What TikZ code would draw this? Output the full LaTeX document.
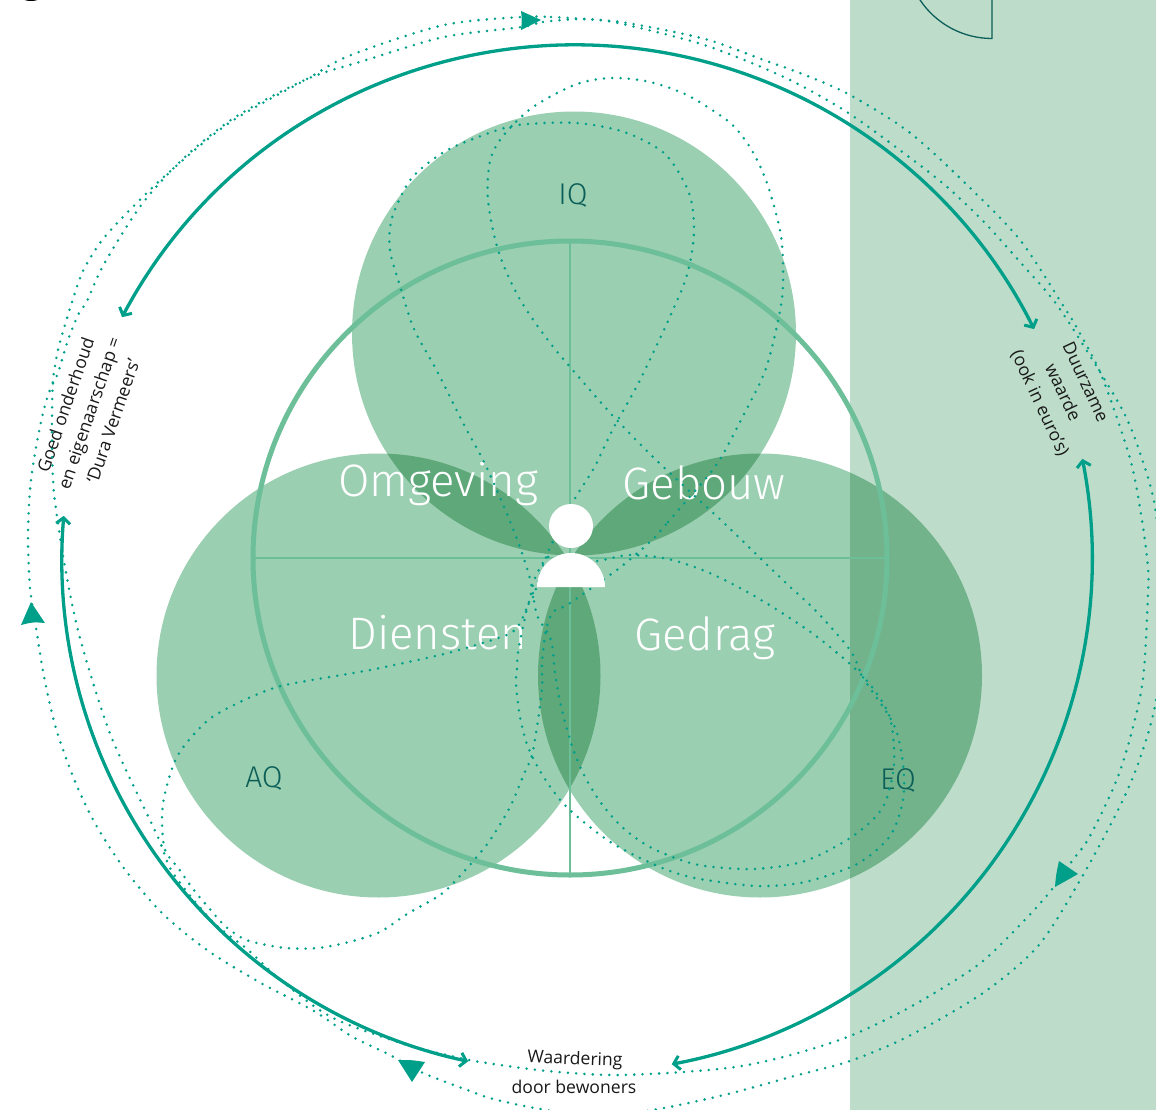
\documentclass[tikz,border=0pt]{standalone}
\usepackage{fontspec}
\usetikzlibrary{arrows.meta}
\setmainfont{Open Sans}
\newfontfamily\bigfont[UprightFont={* Light}]{Fira Sans}
\definecolor{pale}{HTML}{BDDDCA}
\definecolor{petal}{HTML}{9BCFB1}
\definecolor{ringc}{HTML}{6CBF98}
\definecolor{teal}{HTML}{009F89}
\definecolor{darkt}{HTML}{0B5F58}
\tikzset{
  x=1pt,y=-1pt,
  ringline/.style={draw=ringc,line width=5pt},
  crossline/.style={draw=ringc,line width=1.6pt},
  solidarc/.style={draw=teal,line width=3.3pt,{Straight Barb[length=6pt,width=14pt,line width=3pt]}-{Straight Barb[length=6pt,width=14pt,line width=3pt]}},
  dotline/.style={draw=teal,line width=2.8pt,line cap=round,dash pattern=on 0pt off 8.3pt},
  headtip/.style={fill=teal},
  biglabel/.style={text=white,font=\bigfont\fontsize{45.5}{50}\selectfont,inner sep=0pt},
  qlabel/.style={text=darkt,font=\bigfont\fontsize{30}{32}\selectfont,inner sep=0pt},
  smalllabel/.style={text=black!90,font=\fontsize{17.6}{25}\selectfont,align=center,inner sep=0pt},
}
\begin{document}
\begin{tikzpicture}
\useasboundingbox (0,0) rectangle (1156,1110);
\clip (0,0) rectangle (1156,1110);
\fill[pale] (850,0) rectangle (1156,1110);
% corner marks
\fill[black] (31,-3) ellipse[x radius=10pt,y radius=4pt];
\coordinate (qc) at (992,-48);
\path (qc) ++(213.6:86.5pt) coordinate (qs);
\draw[darkt,line width=1.3pt] (qs) arc[start angle=213.6,end angle=270,radius=86.5pt] -- (992,0);
% petals
\begin{scope}[blend mode=multiply]
\fill[petal] (574,333.5) circle[radius=222pt];
\fill[petal] (378.5,675.5) circle[radius=222pt];
\fill[petal] (760,675.5) circle[radius=222pt];
\end{scope}
% ring and cross
\coordinate (rc) at (570,558);
\draw[crossline] (255,558) -- (886,558);
\draw[crossline] (570,241) -- (570,876);
\draw[ringline] (rc) circle[radius=317pt];
% labels
\node[biglabel] (omg) at (438,484) {Omgeving};
\node[biglabel] (geb) at (704,483) {Gebouw};
\node[biglabel] (die) at (438,633) {Diensten};
\node[biglabel] (ged) at (705,638) {Gedrag};
\node[qlabel] (iq) at (573,195) {IQ};
\node[qlabel] (aq) at (264,778) {AQ};
\node[qlabel] (eq) at (898,780) {EQ};
\node[smalllabel,rotate=71] (goed) at (89,413) {Goed onderhoud\\en eigenaarschap =\\‘Dura Vermeers’};
\node[smalllabel,rotate=-65] (duur) at (1062,393) {Duurzame\\waarde\\(ook in euro’s)};
\node[smalllabel,rotate=-2] (waar) at (575,1060) {Waardering};
\node[smalllabel] (door) at (574,1087) {door bewoners};
% solid arcs
\coordinate (c) at (577,558);
\coordinate (ct) at (575,558);
\path (ct) ++(152:513pt) coordinate (a1);
\path (c) ++(11.1:515pt) coordinate (a2);
\path (c) ++(175.3:515pt) coordinate (a3);
\draw[solidarc] (a1) arc[start angle=152,end angle=26.5,radius=513pt];
\draw[solidarc] (a2) arc[start angle=11.1,end angle=-79.4,radius=515pt];
\draw[solidarc] (a3) arc[start angle=175.3,end angle=257.8,radius=515pt];
% dotted rings
\draw[dotline] plot[smooth cycle] coordinates {(522,17)(551,17)(583,19)(627,23)(705,39)(761,59)(805,75)(850,95)(909,132)(964,182)(1020,240)(1064,307)(1077,328)(1100,372)(1120,427)(1133,470)(1143,527)(1148,568)(1148,593)(1142,686)(1120,771)(1090,836)(1072,861)(1049,893)(1020,925)(983,961)(946,986)(901,1012)(850,1036)(798,1053)(742,1066)(683,1072)(613,1075)(547,1071)(480,1062)(447,1055)(407,1045)(333,1018)(283,982)(247,949)(213,922)(173,873)(157,835)(111,736)(80,638)(65,567)(55,502)(53,478)(52,447)(52,417)(53,380)(58,350)(65,325)(72,302)(83,271)(100,243)(122,218)(166,175)(229,123)(307,79)(351,55)(444,25)};
\draw[dotline] plot[smooth cycle] coordinates {(522,27)(543,22)(583,19)(618,23)(698,43)(754,64)(798,84)(850,114)(909,157)(946,186)(983,221)(1020,262)(1057,305)(1100,372)(1125,415)(1140,453)(1155,507)(1163,600)(1156,700)(1138,764)(1116,814)(1079,882)(1038,946)(983,993)(909,1036)(850,1061)(798,1075)(724,1095)(653,1110)(597,1116)(540,1109)(493,1099)(470,1091)(423,1073)(388,1054)(351,1036)(314,1011)(259,982)(207,950)(163,914)(126,871)(96,825)(74,779)(55,725)(43,671)(36,627)(31,597)(29,573)(28,533)(30,490)(35,453)(43,413)(50,390)(58,373)(67,343)(78,315)(87,301)(104,264)(142,204)(185,157)(237,116)(307,79)(363,61)(444,37)};
% inner trefoil
\draw[dotline] plot[smooth cycle] coordinates {(652,540)(668,522)(687,500)(717,464)(742,418)(765,371)(778,321)(783,286)(781,236)(768,186)(754,154)(739,132)(724,118)(687,95)(650,82)(613,78)(577,84)(533,107)(503,136)(490,161)(488,200)(498,250)(518,296)(547,339)(577,375)(613,416)(650,454)(687,489)(724,523)(757,555)(787,584)(816,611)(850,650)(864,679)(894,725)(903,764)(903,800)(890,836)(857,864)(805,882)(757,886)(700,879)(670,871)(640,858)(612,843)(586,824)(562,802)(543,776)(528,747)(520,717)(516,684)(517,668)(518,652)(523,627)(528,605)(534,595)(540,575)(545,560)(552,543)(574,500)(594,468)(613,429)(639,382)(668,321)(687,275)(694,232)(689,193)(665,154)(624,132)(576,123)(518,125)(481,136)(444,152)(411,179)(392,218)(390,250)(400,286)(414,329)(437,371)(462,421)(485,464)(507,514)(522,553)(531,583)(537,615)(551,640)(555,673)(561,706)(572,746)(584,775)(601,803)(622,827)(648,846)(678,859)(705,866)(754,869)(805,861)(853,836)(883,807)(894,764)(890,718)(872,687)(850,664)(816,636)(779,611)(742,589)(705,571)(668,559)(629,555)(597,561)(565,560)(548,557)(535,578)(528,605)(515,630)(492,640)(444,654)(370,670)(318,679)(277,687)(240,702)(207,721)(178,755)(165,793)(162,820)(165,850)(179,869)(193,889)(209,908)(225,926)(242,938)(257,943)(286,948)(318,948)(349,942)(380,932)(407,914)(440,895)(459,877)(488,843)(510,807)(524,774)(532,755)(538,720)(542,688)(542,663)(546,630)(553,612)(567,605)(593,587)(622,566)};
% person
\fill[white] (571,526) circle[radius=22pt];
\fill[white] (537,587) arc[start angle=180,end angle=0,radius=34pt] -- cycle;
% triangles
\fill[headtip] (541,20) -- (521,11) .. controls (522,20) .. (521,30) -- cycle;
\fill[headtip] (31,602) -- (21,625) .. controls (33,622) .. (45,623) -- cycle;
\fill[headtip] (412,1082) -- (398,1060) .. controls (412,1060) .. (425,1062) -- cycle;
\fill[headtip] (1078,874) -- (1059,861) .. controls (1056,875) .. (1055,887) -- cycle;
\end{tikzpicture}
\end{document}
